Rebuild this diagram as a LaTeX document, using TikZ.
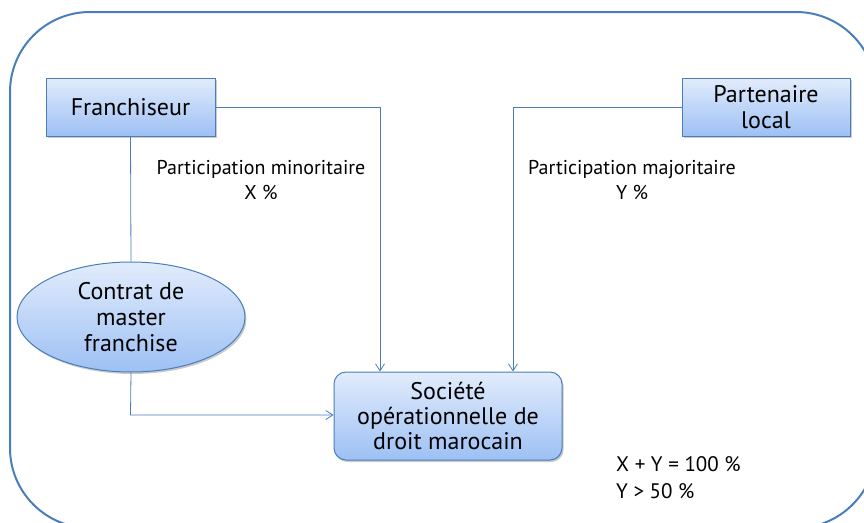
\documentclass[tikz,border=0pt]{standalone}
\usepackage{fontspec}
\setmainfont{PT Sans}
\usetikzlibrary{shapes.geometric,shadows,arrows.meta}
\definecolor{bord}{HTML}{4A7EBB}
\definecolor{ftop}{HTML}{E2ECFC}
\definecolor{fbot}{HTML}{9DC0F4}
\tikzset{
  boxstyle/.style={draw=bord, line width=1pt, top color=ftop, bottom color=fbot,
    drop shadow={shadow xshift=1.5pt, shadow yshift=-2pt, opacity=0.35, fill=black!60},
    align=center, font=\fontsize{24}{26}\selectfont, inner sep=0pt},
  conn/.style={draw=bord, line width=0.8pt},
  arr/.style={conn, -{Straight Barb[length=7pt,width=9pt]}},
  lbl/.style={font=\fontsize{20}{25}\selectfont, align=center, inner sep=0pt}
}
\begin{document}
\begin{tikzpicture}[x=1pt,y=-1pt]
\useasboundingbox (0,0) rectangle (864,522);
\begin{scope}
\clip (0,0) rectangle (864,522);
\draw[bord, line width=2pt, rounded corners=80pt] (10,12) rectangle (876,528);
\end{scope}
\node[boxstyle, minimum width=169pt, minimum height=58pt] (fr) at (130.5,107) {Franchiseur};
\node[boxstyle, minimum width=168pt, minimum height=58pt] (pl) at (766,107) {Partenaire\\local};
\node[boxstyle, ellipse, minimum width=228pt, minimum height=110pt] (ct) at (131,317) {Contrat de\\master\\franchise};
\node[boxstyle, rounded corners=12pt, minimum width=228pt, minimum height=88pt] (so) at (448,416) {Société\\[-1pt]opérationnelle de\\[-1pt]droit marocain};
\coordinate (a1) at (380,107);
\coordinate (a2) at (513,107);
\coordinate (a3) at (130.5,415);
\draw[conn] (fr.south) -- (ct.north);
\draw[arr] (fr.east) -- (a1) -- (a1 |- so.north);
\draw[arr] (pl.west) -- (a2) -- (a2 |- so.north);
\draw[arr] (ct.south) -- (a3) -- (so.west |- a3);
\node[lbl] (l1) at (261,180) {Participation minoritaire\\X \%};
\node[lbl] (l2) at (632,180) {Participation majoritaire\\Y \%};
\node[lbl, font=\fontsize{21}{27}\selectfont, align=left, anchor=west] (eq) at (616,478) {X + Y = 100 \%\\Y > 50 \%};
\end{tikzpicture}
\end{document}
